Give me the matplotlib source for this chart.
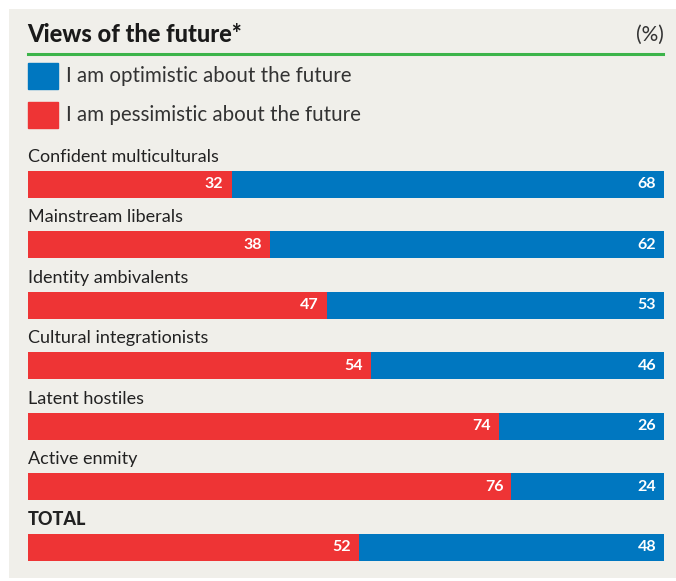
import matplotlib.pyplot as plt
import numpy as np

groups = ["Confident multiculturals", "Mainstream liberals", "Identity ambivalents",
          "Cultural integrationists", "Latent hostiles", "Active enmity", "TOTAL"]
pessimistic = [32, 38, 47, 54, 74, 76, 52]
optimistic = [68, 62, 53, 46, 26, 24, 48]

BLUE = "#0077c0"
RED = "#ee3435"
GREEN = "#3cb44a"
BG = "#f0efea"
FONT = "Lato"

W, H = 676, 581
fig = plt.figure(figsize=(W / 100, H / 100), dpi=100)
fig.patch.set_facecolor("white")

# grey panel behind everything
panel = fig.add_axes([9 / W, 3 / H, 1 - 9 / W, 1 - 12 / H])
panel.set_facecolor(BG)
panel.set_xticks([])
panel.set_yticks([])
for s in panel.spines.values():
    s.set_visible(False)
panel.set_zorder(0)


def px(x, y):
    return x / W, 1 - y / H


# header
fig.text(*px(27, 35), "Views of the future*", fontsize=17, fontweight="black",
         family=FONT, color="#1a1a1a", va="center", ha="left")
fig.text(*px(664, 35), "(%)", fontsize=15, family=FONT, color="#333333",
         va="center", ha="right")
fig.add_artist(plt.Line2D([28 / W, 663 / W], [1 - 54 / H] * 2, color=GREEN, lw=2.2))

# legend
for y, col, txt in [(76, BLUE, "I am optimistic about the future"),
                    (115, RED, "I am pessimistic about the future")]:
    fig.add_artist(plt.Rectangle(px(28, y + 13), 30 / W, 26 / H, color=col,
                                 transform=fig.transFigure))
    fig.text(*px(66, y), txt, fontsize=14.8, family=FONT, color="#333333",
             va="center", ha="left")

# bars
ax = fig.add_axes([28 / W, 1 - 577.25 / H, 636 / W, 423.5 / H])
ax.set_zorder(1)
ax.patch.set_visible(False)
ax.set_xlim(0, 100)
ax.set_ylim(6.5, -0.5)
ax.axis("off")

rows = np.arange(len(groups))
h = 27 / 60.5
ax.barh(rows, pessimistic, height=h, color=RED, lw=0)
ax.barh(rows, optimistic, left=pessimistic, height=h, color=BLUE, lw=0)

pad = 8 / 636 * 100
for i, (g, p, o) in enumerate(zip(groups, pessimistic, optimistic)):
    bold = g == "TOTAL"
    ax.text(0, i - 0.45, g, fontsize=13 if not bold else 13, family=FONT,
            fontweight="black" if bold else "normal", color="#222222",
            ha="left", va="center", clip_on=False)
    ax.text(p - pad, i, str(p), fontsize=11.5, fontweight="bold", family=FONT,
            color="white", ha="right", va="center")
    ax.text(p + o - pad, i, str(o), fontsize=11.5, fontweight="bold", family=FONT,
            color="white", ha="right", va="center")

fig.savefig("out.png", dpi=100, facecolor=fig.get_facecolor())
